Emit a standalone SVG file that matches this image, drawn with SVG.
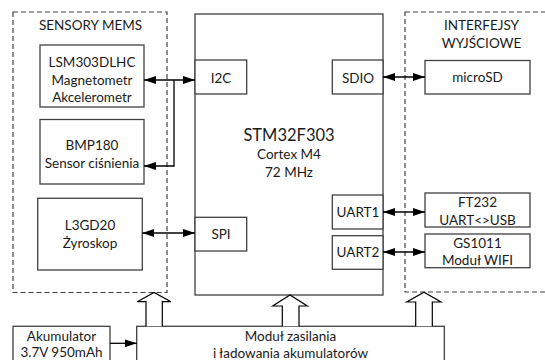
<svg xmlns="http://www.w3.org/2000/svg" width="545" height="360" viewBox="0 0 545 360">
<defs>
<style>
text{font-family:Lato,"Open Sans","Liberation Sans",sans-serif;font-size:13.5px;fill:#1a1a1a;text-anchor:middle}
.big{font-size:16.5px}
.box{fill:#fff;stroke:#404040;stroke-width:1.3}
.grp{fill:none;stroke:#404040;stroke-width:1.2;stroke-dasharray:5,3}
.con{fill:none;stroke:#000;stroke-width:1.3}
.pwr{fill:#fff;stroke:#000;stroke-width:1.2}
</style>
<marker id="ah" viewBox="0 0 12 8" refX="12" refY="4" markerWidth="12" markerHeight="8" markerUnits="userSpaceOnUse" orient="auto-start-reverse">
<path d="M0,0L12,4L0,8Z" fill="#000"/>
</marker>
</defs>
<rect width="545" height="360" fill="#fff"/>

<g id="grp-sensory">
<rect class="grp" x="13" y="12" width="154" height="280.5"/>
<text x="90.5" y="30">SENSORY MEMS</text>
</g>
<g id="grp-interfaces">
<rect class="grp" x="405" y="12" width="150" height="280"/>
<text x="481.5" y="30">INTERFEJSY</text>
<text x="481.5" y="48">WYJŚCIOWE</text>
</g>

<g id="mcu">
<rect class="box" x="195" y="14" width="188" height="281"/>
<text class="big" x="289" y="141">STM32F303</text>
<text x="289" y="159">Cortex M4</text>
<text x="289" y="177">72 MHz</text>
</g>
<g id="i2c"><rect class="box" x="195" y="60" width="51.7" height="34"/><text x="221" y="82.5">I2C</text></g>
<g id="spi"><rect class="box" x="195" y="217.3" width="51.7" height="33.7"/><text x="221" y="238.5">SPI</text></g>
<g id="sdio"><rect class="box" x="332.3" y="60" width="50.7" height="34"/><text x="358" y="82.5">SDIO</text></g>
<g id="uart1"><rect class="box" x="332.3" y="195" width="50.7" height="34"/><text x="358" y="216.5">UART1</text></g>
<g id="uart2"><rect class="box" x="332.3" y="235.7" width="50.7" height="33.6"/><text x="358" y="257">UART2</text></g>

<g id="lsm303">
<rect class="box" x="40" y="45" width="104" height="62"/>
<text x="92" y="67">LSM303DLHC</text>
<text x="92" y="85">Magnetometr</text>
<text x="92" y="102">Akcelerometr</text>
</g>
<g id="bmp180">
<rect class="box" x="40" y="119.5" width="104" height="64.5"/>
<text x="92" y="150">BMP180</text>
<text x="92" y="168">Sensor ciśnienia</text>
</g>
<g id="l3gd20">
<rect class="box" x="37.7" y="198.3" width="104.6" height="71.7"/>
<text x="90" y="230">L3GD20</text>
<text x="90" y="248">Żyroskop</text>
</g>

<g id="microsd">
<rect class="box" x="425" y="60.5" width="105" height="33.5"/>
<text x="477.5" y="82">microSD</text>
</g>
<g id="ft232">
<rect class="box" x="425" y="193" width="105" height="34"/>
<text x="477.5" y="207">FT232</text>
<text x="477.5" y="225">UART&lt;&gt;USB</text>
</g>
<g id="gs1011">
<rect class="box" x="425" y="234" width="105" height="33.7"/>
<text x="477.5" y="248">GS1011</text>
<text x="477.5" y="265">Moduł WIFI</text>
</g>

<g id="akumulator">
<rect class="box" x="13" y="326.3" width="97" height="40"/>
<text x="61.5" y="341">Akumulator</text>
<text x="61.5" y="357">3.7V 950mAh</text>
</g>
<g id="zasilanie">
<rect class="box" x="136.7" y="326.3" width="307.6" height="40"/>
<text x="290.5" y="341">Moduł zasilania</text>
<text x="290.5" y="358">i ładowania akumulatorów</text>
</g>

<g id="connectors">
<line class="con" x1="144" y1="80" x2="195" y2="80" marker-start="url(#ah)" marker-end="url(#ah)"/>
<polyline class="con" points="174,80 174,166 144,166" marker-end="url(#ah)"/>
<line class="con" x1="142.3" y1="233" x2="195" y2="233" marker-start="url(#ah)" marker-end="url(#ah)"/>
<line class="con" x1="383" y1="77" x2="425" y2="77" marker-start="url(#ah)" marker-end="url(#ah)"/>
<line class="con" x1="383" y1="212" x2="425" y2="212" marker-start="url(#ah)" marker-end="url(#ah)"/>
<line class="con" x1="383" y1="252" x2="425" y2="252" marker-start="url(#ah)" marker-end="url(#ah)"/>
<line class="con" x1="110" y1="343.3" x2="136.7" y2="343.3" marker-end="url(#ah)"/>
<polyline class="pwr" points="146,326.3 146,301.7 137.3,301.7 154,292.5 171,301.7 162.3,301.7 162.3,326.3"/>
<polyline class="pwr" points="282.3,326.3 282.3,306 272.7,306 290,295 307.3,306 299,306 299,326.3"/>
<polyline class="pwr" points="415.7,326.3 415.7,302 406.7,302 424,292.3 441,302 432.3,302 432.3,326.3"/>
</g>
</svg>
